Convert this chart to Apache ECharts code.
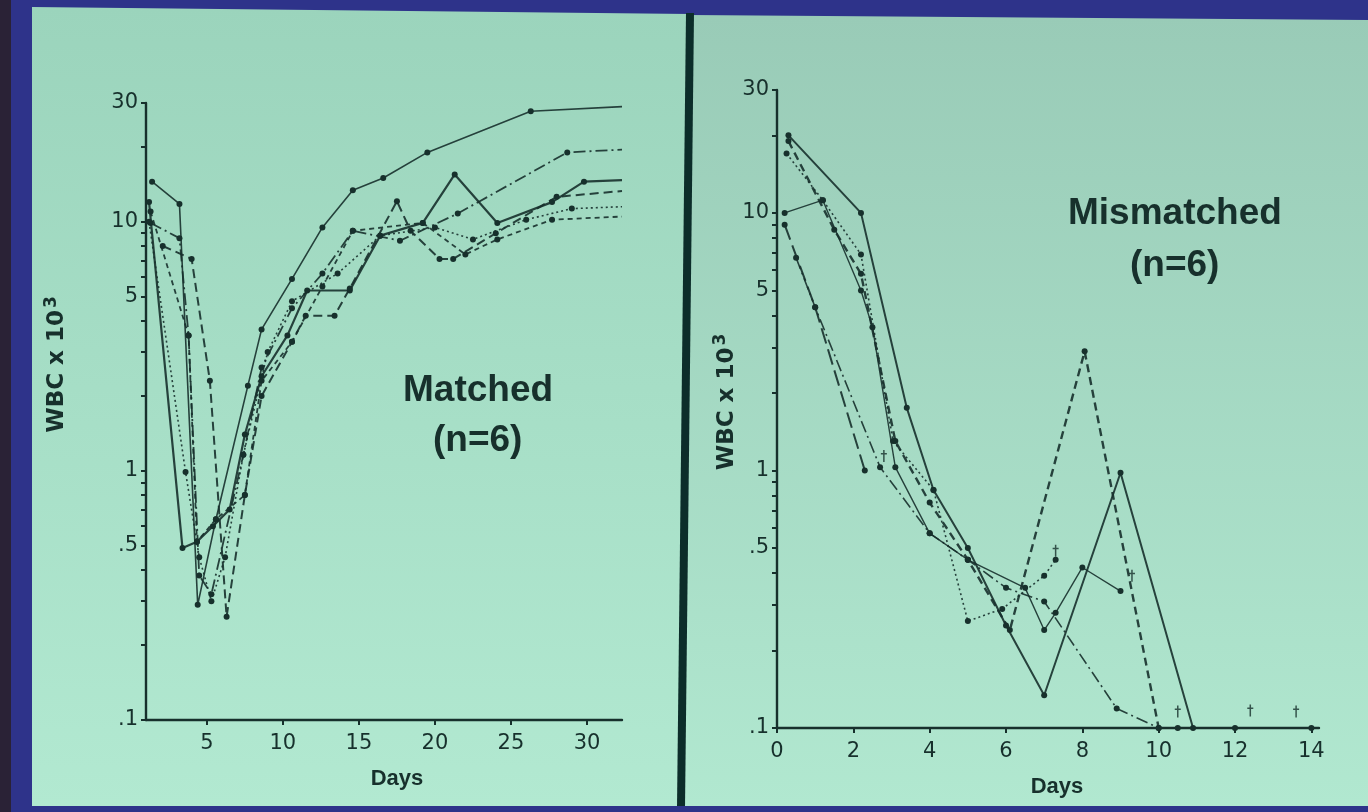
<!DOCTYPE html>
<html>
<head>
<meta charset="utf-8">
<title>WBC after transplant: matched vs mismatched</title>
<script src="https://cdn.jsdelivr.net/npm/echarts@6/dist/echarts.min.js"></script>
<style>
  html, body { margin: 0; padding: 0; background: #2e338a; }
  #chart { width: 1368px; height: 812px; }
</style>
</head>
<body>
<div id="chart"></div>
<script>
// matched panel, [day, WBC x 10^3]
var matched1 = [[1.4, 14.5], [3.2, 11.8], [4.4, 0.29], [5.6, 0.64], [7.7, 2.2], [8.6, 3.7], [10.6, 5.9], [12.6, 9.5], [14.6, 13.4], [16.6, 15], [19.5, 19], [26.3, 27.8], [32.3, 29]];
var matched2 = [[1.3, 9.9], [3.2, 8.6], [3.8, 3.5], [4.5, 0.38], [5.3, 0.32], [7.4, 1.16], [8.6, 2.6], [10.6, 4.5], [12.6, 6.2], [14.6, 9.2], [17.7, 8.4], [21.5, 10.8], [28.7, 19], [32.3, 19.5]];
var matched3 = [[1.2, 12], [3.4, 0.49], [4.35, 0.52], [5.4, 0.6], [6.5, 0.7], [7.5, 1.4], [8.6, 2.4], [10.3, 3.5], [11.6, 5.3], [14.4, 5.3], [16.4, 8.8], [19.2, 9.9], [21.3, 15.5], [24.1, 9.9], [27.7, 12], [29.8, 14.5], [32.3, 14.7]];
var matched4 = [[2.1, 8.0], [4, 7.1], [5.2, 2.3], [6.3, 0.26], [7.5, 0.8], [8.6, 2.0], [10.6, 3.3], [11.5, 4.2], [13.4, 4.2], [14.4, 5.4], [17.5, 12.1], [18.4, 9.2], [20.3, 7.1], [21.2, 7.1], [24, 9], [28, 12.6], [32.3, 13.3]];
var matched5 = [[1.2, 10], [3.6, 0.99], [4.5, 0.45], [5.3, 0.3], [6.2, 0.45], [7.4, 1.16], [9, 3.0], [10.6, 4.8], [13.6, 6.2], [16.4, 8.8], [20, 9.5], [22.5, 8.5], [26, 10.2], [29, 11.3], [32.3, 11.5]];
var matched6 = [[1.3, 11], [3.8, 3.5], [4.35, 0.52], [5.6, 0.64], [7.5, 0.8], [8.6, 2.3], [10.6, 3.3], [12.6, 5.5], [14.6, 9.2], [19.2, 9.9], [22, 7.4], [24.1, 8.5], [27.7, 10.2], [32.3, 10.5]];

// mismatched panel, [day, WBC x 10^3]
var mismatched1 = [[0.3, 20], [2.2, 10], [3.4, 1.75], [4.1, 0.84], [5, 0.5], [6, 0.25], [7, 0.134], [9, 0.98], [10.9, 0.1], [12, 0.1], [14, 0.1]];
var mismatched2 = [[0.3, 19], [1.5, 8.6], [2.2, 5.8], [3.1, 1.3], [4, 0.75], [5, 0.45], [6.1, 0.24], [8.06, 2.9], [10, 0.1]];
var mismatched3 = [[0.25, 17], [1.2, 11.2], [2.2, 6.9], [3.04, 1.3], [4.1, 0.84], [5, 0.26], [5.9, 0.29], [7, 0.39], [7.3, 0.45]];
var mismatched4 = [[0.2, 10], [1.2, 11.2], [2.2, 5], [2.5, 3.6], [3.1, 1.03], [4, 0.57], [5, 0.45], [6.5, 0.35], [7, 0.24], [7.3, 0.28], [8, 0.42], [9, 0.34]];
var mismatched5 = [[0.2, 9], [1, 4.3], [2.3, 1.0]];
var mismatched6 = [[0.5, 6.7], [1, 4.3], [2.7, 1.03], [4, 0.57], [5, 0.45], [6, 0.35], [7, 0.31], [8.9, 0.119], [10, 0.1], [10.5, 0.1]];
var deaths = [[2.8, 1.05], [7.3, 0.45], [9.3, 0.36], [10.5, 0.107], [12.4, 0.108], [13.6, 0.107]];

// axis ticks
var wbcTicks = [0.1, 0.2, 0.3, 0.4, 0.5, 0.6, 0.7, 0.8, 0.9, 1, 2, 3, 4, 5, 6, 7, 8, 9, 10, 20, 30];
var wbcLabels = [0.1, 0.5, 1, 5, 10, 30];
var matchedDays = [5, 10, 15, 20, 25, 30];
var mismatchedDays = [0, 2, 4, 6, 8, 10, 12, 14];

var ink = '#17302c';
var font = '"Liberation Sans", Arial, sans-serif';
var wide = '"DejaVu Sans", sans-serif';
var chart = echarts.init(document.getElementById('chart'));

function fmtWbc(v) {
  var r = Math.round(v * 10) / 10;
  return r < 1 ? String(r).replace(/^0/, '') : String(r);
}

function wbcAxis(gi, gap, shift) {
  return {
    type: 'log', logBase: 10, gridIndex: gi, min: 0.1, max: 30,
    name: 'WBC x 10{sup|3}', nameLocation: 'middle', nameRotate: 90, nameGap: gap,
    nameTextStyle: {
      color: ink, fontFamily: wide, fontWeight: 'bold', fontSize: 23, padding: [0, 0, 0, shift],
      rich: { sup: { color: ink, fontFamily: wide, fontWeight: 'bold', fontSize: 17, padding: [0, 0, 12, 2] } }
    },
    axisLine: { show: true, lineStyle: { color: ink, width: 2.4 } },
    axisTick: { show: true, length: 5, customValues: wbcTicks, lineStyle: { color: ink, width: 2 } },
    axisLabel: { customValues: wbcLabels, formatter: fmtWbc, color: ink, fontFamily: wide, fontSize: 21, margin: 8 },
    splitLine: { show: false }
  };
}

function dayAxis(gi, min, max, ticks, shift) {
  return {
    type: 'value', gridIndex: gi, min: min, max: max,
    name: 'Days', nameLocation: 'middle', nameGap: 48,
    nameTextStyle: { color: ink, fontFamily: font, fontWeight: 'bold', fontSize: 22, padding: [0, 0, 0, shift] },
    axisLine: { show: true, onZero: false, lineStyle: { color: ink, width: 2.4 } },
    axisTick: { show: true, length: 5, customValues: ticks, lineStyle: { color: ink, width: 2 } },
    axisLabel: { customValues: ticks, color: ink, fontFamily: wide, fontSize: 21, margin: 13 },
    splitLine: { show: false }
  };
}

function line(data, gi, dash, width) {
  return {
    type: 'line', xAxisIndex: gi, yAxisIndex: gi, z: 3,
    data: data.map(function (p, i) {
      return i === data.length - 1 && p[0] > 30 ? { value: p, symbol: 'none' } : p;
    }),
    symbol: 'circle', symbolSize: 6, showSymbol: true,
    lineStyle: { color: ink, width: width, type: dash, opacity: 0.9 },
    itemStyle: { color: ink }
  };
}

var panelFill = function (top, bottom) {
  return new echarts.graphic.LinearGradient(0, 0, 0, 1, [
    { offset: 0, color: top }, { offset: 1, color: bottom }
  ]);
};

chart.setOption({
  animation: false,
  backgroundColor: '#2e338a',
  grid: [
    { left: 146, top: 103, right: 746, bottom: 92 },
    { left: 777, top: 90, right: 49, bottom: 84 }
  ],
  xAxis: [
    dayAxis(0, 1, 32.3, matchedDays, 26),
    dayAxis(1, 0, 14.2, mismatchedDays, 18)
  ],
  yAxis: [
    wbcAxis(0, 74, 94),
    wbcAxis(1, 35, 14)
  ],
  graphic: [
    { type: 'rect', z: -10, shape: { x: 0, y: 0, width: 11, height: 812 }, style: { fill: '#2a2236' } },
    { type: 'polygon', z: -10, shape: { points: [[32, 7], [690, 14], [690, 806], [32, 806]] }, style: { fill: panelFill('#9bd4bc', '#b2e9d1') } },
    { type: 'polygon', z: -10, shape: { points: [[689, 15], [1368, 20], [1368, 806], [689, 806]] }, style: { fill: panelFill('#99cbb7', '#b1e8d0') } },
    { type: 'polygon', z: -9, shape: { points: [[686, 13], [694, 13], [685, 806], [677, 806]] }, style: { fill: '#0c2d2a' } },
    { type: 'text', left: 403, top: 372, style: { text: 'Matched', fill: ink, font: 'bold 37px ' + font } },
    { type: 'text', left: 433, top: 422, style: { text: '(n=6)', fill: ink, font: 'bold 37px ' + font } },
    { type: 'text', left: 1068, top: 195, style: { text: 'Mismatched', fill: ink, font: 'bold 37px ' + font } },
    { type: 'text', left: 1130, top: 247, style: { text: '(n=6)', fill: ink, font: 'bold 37px ' + font } }
  ],
  series: [
    line(matched1, 0, 'solid', 1.6),
    line(matched2, 0, [12, 4, 2, 4], 1.8),
    line(matched3, 0, 'solid', 2.2),
    line(matched4, 0, [9, 5], 2),
    line(matched5, 0, [2, 3], 1.6),
    line(matched6, 0, [5, 4], 1.8),
    line(mismatched1, 1, 'solid', 2),
    line(mismatched2, 1, [8, 5], 2.4),
    line(mismatched3, 1, [2, 3], 1.6),
    line(mismatched4, 1, 'solid', 1.4),
    line(mismatched5, 1, [16, 6], 2),
    line(mismatched6, 1, [12, 4, 2, 4], 1.6),
    {
      type: 'scatter', xAxisIndex: 1, yAxisIndex: 1, z: 4, data: deaths,
      symbol: 'path://M4,0h2v4h3v2h-3v10h-2v-10h-3v-2h3z', symbolSize: [6, 12], symbolOffset: [0, -9],
      itemStyle: { color: ink }
    }
  ]
});
</script>
</body>
</html>
